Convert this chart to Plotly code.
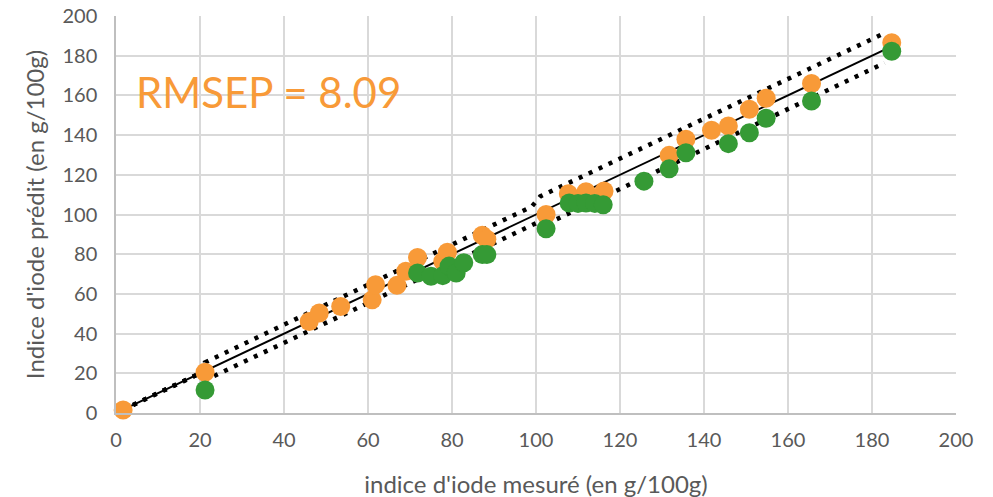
import plotly.graph_objects as go

# Orange series (measured vs predicted)
orange_x = [1.7, 21.2, 46.0, 48.4, 53.5, 61.0, 61.8, 66.9, 69.0, 71.8, 77.8, 78.9, 87.2, 88.3,
            102.4, 107.7, 111.9, 116.2, 131.7, 135.7, 141.8, 145.8, 150.8, 154.8, 165.6, 184.7]
orange_y = [1.5, 20.5, 46.1, 50.4, 53.7, 57.0, 64.6, 64.3, 71.4, 78.3, 76.4, 81.0, 89.5, 87.5,
            100.0, 110.5, 111.5, 111.8, 129.8, 137.9, 142.4, 144.6, 153.0, 158.6, 166.0, 186.5]

# Green series
green_x = [21.2, 71.8, 75.0, 77.8, 79.3, 81.0, 82.8, 87.2, 88.3, 102.4, 107.9, 110.0, 111.9,
           114.0, 116.0, 125.7, 131.7, 135.7, 145.8, 150.8, 154.8, 165.6, 184.7]
green_y = [11.6, 70.5, 68.9, 69.2, 74.0, 70.5, 75.7, 79.8, 79.8, 92.8, 105.8, 105.6, 105.8,
           105.6, 104.9, 116.8, 123.0, 131.1, 135.7, 141.2, 148.5, 157.2, 182.2]

# Reference line y = x
ref_x = [1.7, 184.7]
ref_y = [1.7, 184.7]

# Dotted bounds
upper_x = [1.7, 21.2, 21.2, 99.0, 101.0, 183.0]
upper_y = [1.7, 21.2, 25.5, 104.0, 109.1, 191.4]
lower_x = [1.7, 21.2, 21.2, 102.4, 102.4, 183.0]
lower_y = [1.7, 21.2, 16.5, 98.0, 95.1, 176.3]

x_ticks = list(range(0, 201, 20))
y_ticks = list(range(0, 201, 20))

ORANGE = "#F89A38"
GREEN = "#359A35"
FONT = "Lato"
TXT = "#595959"

fig = go.Figure()
for bx, by in ((upper_x, upper_y), (lower_x, lower_y)):
    fig.add_trace(go.Scatter(x=bx, y=by, mode="lines",
                             line=dict(color="black", width=4.5, dash="4px,7px"),
                             hoverinfo="skip", showlegend=False))
fig.add_trace(go.Scatter(x=ref_x, y=ref_y, mode="lines",
                         line=dict(color="black", width=2),
                         hoverinfo="skip", showlegend=False))
fig.add_trace(go.Scatter(x=orange_x, y=orange_y, mode="markers",
                         marker=dict(color=ORANGE, size=19, line=dict(width=0)),
                         cliponaxis=False, showlegend=False))
fig.add_trace(go.Scatter(x=green_x, y=green_y, mode="markers",
                         marker=dict(color=GREEN, size=19, line=dict(width=0)),
                         cliponaxis=False, showlegend=False))

fig.add_annotation(x=4.3, y=161.5, xref="x", yref="y", text="RMSEP = 8.09",
                   showarrow=False, xanchor="left", yanchor="middle",
                   font=dict(family=FONT, size=42, color=ORANGE))

fig.update_layout(
    width=993, height=497,
    margin=dict(l=108, r=45, t=8, b=92),
    paper_bgcolor="white", plot_bgcolor="white",
    font=dict(family=FONT, color=TXT, size=20),
)
fig.update_xaxes(range=[0, 200], tickvals=x_ticks, ticktext=[str(v) for v in x_ticks],
                 showgrid=True, gridcolor="#D9D9D9", gridwidth=1.5,
                 zeroline=False, showline=True, linecolor="#BFBFBF", linewidth=1.5,
                 ticks="", ticklabelstandoff=8, automargin=False, ticklabeloverflow="allow",
                 tickfont=dict(size=20, color=TXT, family=FONT),
                 title=dict(text="indice d'iode mesuré (en g/100g)",
                            font=dict(size=24, color=TXT, family=FONT), standoff=26))
fig.update_yaxes(range=[0, 200], tickvals=y_ticks, ticktext=[str(v) for v in y_ticks],
                 showgrid=True, gridcolor="#D9D9D9", gridwidth=1.5,
                 zeroline=False, showline=True, linecolor="#BFBFBF", linewidth=1.5,
                 ticks="", ticklabelstandoff=13, automargin=False, ticklabeloverflow="allow",
                 tickfont=dict(size=20, color=TXT, family=FONT),
                 title=dict(text="Indice d'iode prédit (en g/100g)",
                            font=dict(size=24, color=TXT, family=FONT), standoff=11))

fig.write_html("out.html")
